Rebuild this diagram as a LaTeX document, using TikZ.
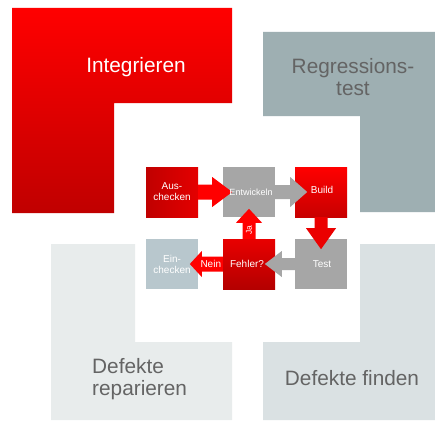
\documentclass[tikz,border=0pt]{standalone}
\usepackage{fontspec}
\setmainfont{Liberation Sans}
\usetikzlibrary{calc}
\definecolor{rbright}{RGB}{255,0,0}
\definecolor{rdark}{RGB}{192,0,0}
\definecolor{regr}{RGB}{158,175,178}
\definecolor{repair}{RGB}{232,236,236}
\definecolor{findc}{RGB}{218,225,227}
\definecolor{boxgrey}{RGB}{166,166,166}
\definecolor{einc}{RGB}{184,199,205}
\definecolor{labgrey}{RGB}{100,100,100}
\definecolor{arrred}{RGB}{235,0,0}
\begin{document}
\begin{tikzpicture}[x=1pt,y=-1pt,
  stepbox/.style={rectangle, minimum width=52pt, minimum height=50pt, inner sep=0pt},
  steptext/.style={text=white, font=\fontsize{10}{11}\selectfont, align=center, inner sep=0pt},
  biglabel/.style={font=\fontsize{20.8}{22}\selectfont, align=center, inner sep=0pt},
  redarrow/.style={fill=rbright},
  greyarrow/.style={fill=boxgrey}
  ]
\useasboundingbox (0,0) rectangle (435,420);
\fill[white] (0,0) rectangle (435,420);

% large L-shaped phases
\shade[top color=rbright, bottom color=rdark]
  (12,8) -- (232,8) -- (232,103) -- (114,103) -- (114,213) -- (12,213) -- cycle;
\fill[regr]
  (263,32) -- (435,32) -- (435,212) -- (360,212) -- (360,116) -- (263,116) -- cycle;
\fill[repair]
  (51,244) -- (135,244) -- (135,342) -- (232,342) -- (232,420) -- (51,420) -- cycle;
\fill[findc]
  (360,244) -- (435,244) -- (435,420) -- (263,420) -- (263,342) -- (360,342) -- cycle;

\node[biglabel, text=white] (lint) at (136,67) {Integrieren};
\node[biglabel, text=labgrey] (lreg) at (353,77) {Regressions-\\test};
\node[biglabel, text=labgrey, anchor=west, align=left] (lrep) at (92,379) {Defekte\\reparieren};
\node[biglabel, text=labgrey] (lfind) at (352,378) {Defekte finden};

% step boxes
\node[stepbox, left color=rdark, right color={rgb,255:red,228;green,0;blue,0}] (aus) at (172,192) {};
\node[stepbox, fill=boxgrey] (ent) at (249,192) {};
\node[stepbox, top color=rbright, bottom color={rgb,255:red,200;green,0;blue,0}] (build) at (321,192) {};
\node[stepbox, fill=einc] (ein) at (172,264) {};
\node[stepbox, top color={rgb,255:red,232;green,0;blue,0}, bottom color={rgb,255:red,180;green,0;blue,0}] (fehler) at (249,264) {};
\node[stepbox, fill=boxgrey] (test) at (321,264) {};

% block arrows
\fill[redarrow] (aus.east) ++(0,-7.5) -- ++(14,0) -- ++(0,-7.5) -- ++(20,15) -- ++(-20,15) -- ++(0,-7.5) -- ++(-14,0) -- cycle;
\fill[greyarrow] (ent.east) ++(0,-7) -- ++(15,0) -- ++(0,-8) -- ++(17,15) -- ++(-17,15) -- ++(0,-8) -- ++(-15,0) -- cycle;
\fill[fill=arrred] (build.south) ++(-6.5,0) -- ++(0,11) -- ++(-8.5,0) -- ++(15,21) -- ++(15,-21) -- ++(-8.5,0) -- ++(0,-11) -- cycle;
\fill[greyarrow] (test.west) ++(0,-6) -- ++(-13,0) -- ++(0,-7) -- ++(-17,13) -- ++(17,13) -- ++(0,-7) -- ++(13,0) -- cycle;
\fill[redarrow] (fehler.north) ++(-6.5,0) -- ++(0,-16) -- ++(-6.5,0) -- ++(13,-14) -- ++(13,14) -- ++(-6.5,0) -- ++(0,16) -- cycle;
\fill[redarrow] (fehler.west) ++(0,-7.5) -- ++(-21,0) -- ++(0,-5.5) -- ++(-12,13) -- ++(12,13) -- ++(0,-5.5) -- ++(21,0) -- cycle;

% texts
\node[steptext] (taus) at (aus) {Aus-\\checken};
\node[steptext, font=\fontsize{9}{10}\selectfont] (tent) at ($(ent)+(2,0)$) {Entwickeln};
\node[steptext] (tbuild) at ($(build)+(1,-2)$) {Build};
\node[steptext] (tein) at (ein) {Ein-\\checken};
\node[steptext] (tfehler) at ($(fehler)+(-2,0)$) {Fehler?};
\node[steptext] (ttest) at ($(test)+(1,0)$) {Test};
\node[steptext] (tnein) at ($(fehler.west)+(-12,0)$) {Nein};
\node[steptext, font=\fontsize{8.5}{9}\selectfont, rotate=90] (tja) at ($(fehler.north)+(0,-9)$) {Ja};
\end{tikzpicture}
\end{document}
